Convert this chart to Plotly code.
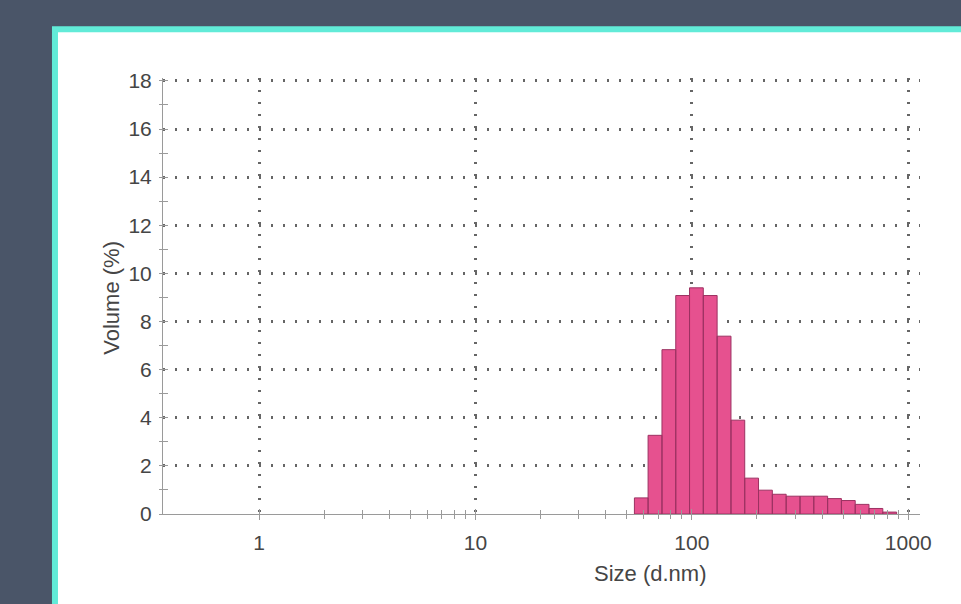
import plotly.graph_objects as go

# Particle size distribution by volume (log-spaced size bins)
bin_edges_nm = [54.3, 62.8, 72.8, 84.3, 97.6, 113.0, 130.9, 151.7, 175.6, 203.4,
                235.6, 272.9, 316.2, 366.2, 424.2, 491.3, 569.0, 659.0, 763.3, 884.1]
volume_pct = [0.67, 3.27, 6.83, 9.08, 9.40, 9.08, 7.39, 3.90, 1.49, 0.99,
              0.82, 0.74, 0.74, 0.74, 0.64, 0.56, 0.40, 0.23, 0.08]

x_tick_vals = [1, 10, 100, 1000]
x_tick_text = ["1", "10", "100", "1000"]
x_minor_vals = [m * d for d in (1, 10, 100) for m in range(2, 10)]
y_tick_vals = list(range(0, 19, 2))
y_minor_vals = list(range(1, 18, 2))

x_title = "Size (d.nm)"
y_title = "Volume (%)"

FONT = "Liberation Sans, Arial, sans-serif"
TEXT = "#454545"
AXIS = "#9a9a9a"
GRID = "#666666"
BAR_FILL = "#e6518f"
BAR_EDGE = "#9c3262"
X_RANGE = [-0.4436, 3.0545]
Y_RANGE = [0, 18.12]

# histogram bars as closed outlines, one per bin
bx, by = [], []
for lo, hi, v in zip(bin_edges_nm[:-1], bin_edges_nm[1:], volume_pct):
    bx += [lo, lo, hi, hi, lo, None]
    by += [0, v, v, 0, 0, None]

fig = go.Figure()
fig.add_trace(go.Scatter(
    x=bx, y=by, mode="lines", fill="toself", fillcolor=BAR_FILL,
    line=dict(color=BAR_EDGE, width=1), hoverinfo="skip", showlegend=False,
))
# helper trace so the overlay axes (inward tick marks) are drawn
fig.add_trace(go.Scatter(x=[1], y=[0], xaxis="x2", yaxis="y2", mode="markers",
                         marker=dict(opacity=0), hoverinfo="skip", showlegend=False))

fig.update_layout(
    width=961, height=604,
    margin=dict(l=163, r=41, t=78, b=90),
    paper_bgcolor="#4a5568",
    plot_bgcolor="white",
    font=dict(family=FONT, color=TEXT, size=21),
    xaxis=dict(
        type="log", range=X_RANGE,
        tickmode="array", tickvals=x_tick_vals, ticktext=x_tick_text,
        ticks="outside", ticklen=5, tickcolor=AXIS, tickwidth=1,
        showline=True, linecolor=AXIS, linewidth=1,
        showgrid=True, gridcolor=GRID, gridwidth=2.5, griddash="2px,10px",
        zeroline=False,
        minor=dict(tickmode="array", tickvals=x_minor_vals, ticks="outside",
                   ticklen=4, tickcolor=AXIS, showgrid=False),
        tickfont=dict(size=21, color=TEXT), ticklabelstandoff=5,
    ),
    yaxis=dict(
        range=Y_RANGE, tickmode="array", tickvals=y_tick_vals,
        ticks="outside", ticklen=3, tickcolor=AXIS, tickwidth=1,
        showline=True, linecolor=AXIS, linewidth=1,
        showgrid=True, gridcolor=GRID, gridwidth=2.5, griddash="2px,10px",
        zeroline=False,
        minor=dict(tickmode="array", tickvals=y_minor_vals, ticks="outside",
                   ticklen=3, tickcolor=AXIS, showgrid=False),
        tickfont=dict(size=21, color=TEXT), ticklabelstandoff=3,
    ),
    xaxis2=dict(
        type="log", range=X_RANGE, overlaying="x", anchor="y2", side="bottom",
        tickmode="array", tickvals=x_tick_vals, ticks="inside", ticklen=5,
        tickcolor=AXIS, showticklabels=False, showgrid=False, showline=False,
        zeroline=False,
        minor=dict(tickmode="array", tickvals=x_minor_vals, ticks="inside",
                   ticklen=4, tickcolor=AXIS, showgrid=False),
    ),
    yaxis2=dict(
        range=Y_RANGE, overlaying="y", anchor="x2", side="left",
        tickmode="array", tickvals=y_tick_vals,
        ticks="inside", ticklen=5, tickcolor=AXIS, showticklabels=False,
        showgrid=False, showline=False, zeroline=False,
        minor=dict(tickmode="array", tickvals=y_minor_vals, ticks="inside",
                   ticklen=5, tickcolor=AXIS, showgrid=False),
    ),
    annotations=[
        dict(text=x_title, xref="paper", yref="paper", x=0.643, y=-0.137,
             xanchor="center", yanchor="middle", showarrow=False,
             font=dict(size=22, color=TEXT)),
        dict(text=y_title, xref="paper", yref="paper", x=-0.0674, y=0.496,
             xanchor="center", yanchor="middle", textangle=-90, showarrow=False,
             font=dict(size=22, color=TEXT)),
    ],
    shapes=[
        # white card with a turquoise frame behind the chart
        dict(type="rect", xref="paper", yref="paper", layer="below",
             x0=-0.1427, x1=1.10, y0=-0.26, y1=1.112,
             fillcolor="white", line=dict(color="#62ebd8", width=6)),
    ],
)

fig.write_html("out.html")
